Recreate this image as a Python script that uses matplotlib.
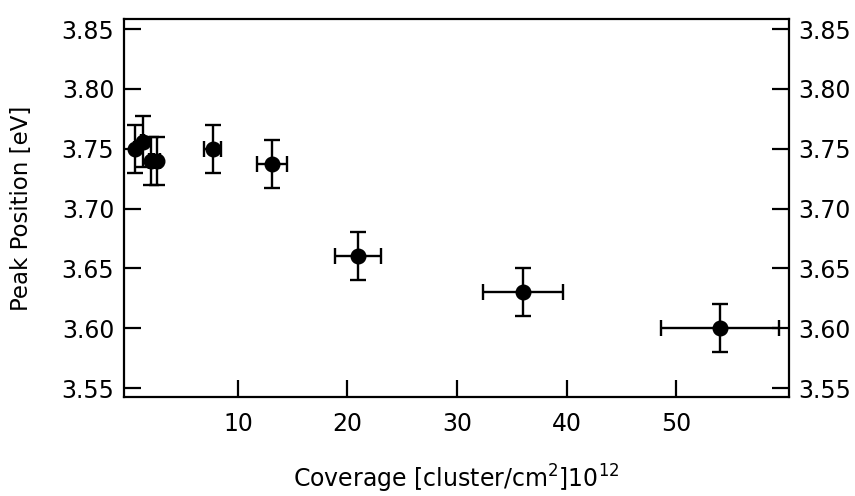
import matplotlib
matplotlib.use("Agg")
import matplotlib.pyplot as plt

# coverage (10^12 cluster/cm^2) and peak position (eV)
coverage = [0.6, 1.3, 2.05, 2.6, 7.7, 13.1, 21.0, 36.0, 54.0]
coverage_err = [0.06, 0.13, 0.2, 0.26, 0.8, 1.35, 2.1, 3.65, 5.4]
peak = [3.750, 3.756, 3.740, 3.740, 3.750, 3.737, 3.660, 3.630, 3.600]
peak_err = [0.02, 0.021, 0.02, 0.02, 0.02, 0.02, 0.02, 0.02, 0.02]

x_ticks = [10, 20, 30, 40, 50]
y_ticks = [3.55, 3.60, 3.65, 3.70, 3.75, 3.80, 3.85]

fig = plt.figure(figsize=(8.55, 4.96), dpi=100)
ax = fig.add_axes([0.145, 0.1996, 0.7778, 0.7621])

ax.errorbar(coverage, peak, xerr=coverage_err, yerr=peak_err, fmt='o', color='black',
            markersize=10.5, elinewidth=1.7, capsize=5.5, capthick=1.7)

ax.set_xlim(-0.4, 60.3)
ax.set_ylim(3.5425, 3.8584)
ax.set_xticks(x_ticks)
ax.set_yticks(y_ticks)
ax.set_yticklabels([f"{v:.2f}" for v in y_ticks])

for s in ax.spines.values():
    s.set_linewidth(1.6)

ax.tick_params(axis='y', direction='in', length=12.5, width=1.6, labelsize=17,
               left=True, right=True, labelleft=True, labelright=True, pad=7)
ax.tick_params(axis='x', direction='in', length=12, width=1.6, labelsize=17,
               top=False, pad=11)

ax.set_ylabel("Peak Position [eV]", fontsize=16.5)
ax.set_xlabel(r"Coverage [cluster/cm$^2$]10$^{12}$", fontsize=17)
ax.yaxis.set_label_coords(-0.137, 0.5)
ax.xaxis.set_label_coords(0.5, -0.175)

fig.savefig("out.png", dpi=100)
